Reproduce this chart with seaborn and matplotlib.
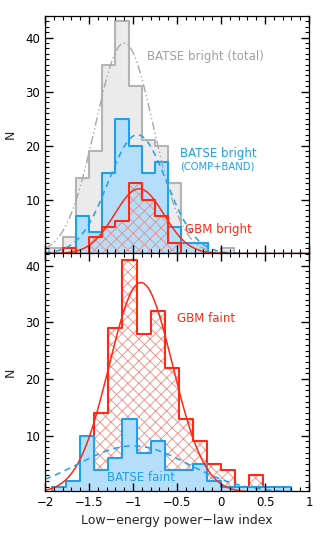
import numpy as np
import pandas as pd
import matplotlib
matplotlib.use('Agg')
import matplotlib.pyplot as plt
from matplotlib.ticker import MultipleLocator
import seaborn as sns

sns.set_style('ticks')
plt.rcParams.update({
    'font.family': ['DejaVu Sans'],
    'hatch.linewidth': 0.6,
    'hatch.color': '#f28a82',
})

# top panel: bright bursts, bin width 0.15
top_edges = np.round(np.arange(-1.95, 0.151, 0.15), 2)
batse_total = [1, 3, 14, 19, 35, 43, 31, 21, 20, 13, 2, 2, 0, 1]
batse_bright = [0, 0, 7, 4, 15, 25, 20, 15, 17, 5, 2, 2, 0, 0]
gbm_bright = [0, 1, 0, 3, 5, 6, 13, 10, 7, 2, 0, 0, 0, 0]

# bottom panel: faint bursts, bin width 0.16
bot_edges = np.round(np.arange(-1.92, 0.801, 0.16), 2)
gbm_faint = [0, 0, 0, 14, 29, 41, 28, 32, 22, 13, 9, 5, 4, 0, 3, 0, 0]
batse_faint = [1, 2, 10, 4, 6, 13, 7, 9, 4, 4, 5, 2, 1, 1, 1, 1, 1]

# gaussian fits (amplitude, mean, sigma)
fit_total = (39, -1.10, 0.33)
fit_bright = (22, -0.95, 0.33)
fit_gbm_bright = (12, -0.93, 0.28)
fit_gbm_faint = (37, -0.91, 0.36)
fit_batse_faint = (8.2, -1.0, 0.63)

RED = '#ff2a14'
BLUE = '#1fa0ee'
BLUE_FILL = '#b5defa'
GRAY = '#b4b4b4'
GRAY_FILL = '#ebebeb'
HATCH = '#f28a82'


def hist_frame(edges, counts):
    return pd.DataFrame({'x': (edges[:-1] + edges[1:]) / 2, 'w': counts})


def filled_hist(ax, edges, counts, face, edge, z):
    sns.histplot(data=hist_frame(edges, counts), x='x', weights='w',
                 bins=list(edges), element='step', fill=True, facecolor=face,
                 edgecolor=edge, linewidth=1.5, alpha=1, ax=ax, zorder=z)


def hatched_hist(ax, edges, counts, z):
    df = hist_frame(edges, counts)
    sns.histplot(data=df, x='x', weights='w', bins=list(edges), element='step',
                 fill=True, color=HATCH, edgecolor=HATCH, hatch='xxx',
                 linewidth=0, ax=ax, zorder=z)
    ax.collections[-1].set_facecolor('none')
    sns.histplot(data=df, x='x', weights='w', bins=list(edges), element='step',
                 fill=False, color=RED, linewidth=1.5, ax=ax, zorder=z + 0.1)


def gauss_curve(ax, fit, color, ls, z, lw=1.1):
    amp, mu, sig = fit
    xs = np.linspace(-2, 1, 400)
    ys = amp * np.exp(-(xs - mu) ** 2 / (2 * sig ** 2))
    ax.plot(xs, ys, color=color, linestyle=ls, linewidth=lw, zorder=z)


fig = plt.figure(figsize=(3.25, 5.41), dpi=100)
ax1 = fig.add_axes([0.1385, 0.5323, 0.8123, 0.4381])
ax2 = fig.add_axes([0.1385, 0.0924, 0.8123, 0.4399])

# top panel
filled_hist(ax1, top_edges, batse_total, GRAY_FILL, GRAY, 1)
filled_hist(ax1, top_edges, batse_bright, BLUE_FILL, BLUE, 1.2)
hatched_hist(ax1, top_edges, gbm_bright, 1.4)
gauss_curve(ax1, fit_total, '#a8a8a8', (0, (6, 2, 1, 2, 1, 2)), 1.8, lw=1.0)
gauss_curve(ax1, fit_bright, BLUE, (0, (4, 3)), 1.8)
gauss_curve(ax1, fit_gbm_bright, RED, '-', 1.8)

ax1.text(-0.84, 36.5, 'BATSE bright (total)', color='#a0a0a0', fontsize=8.5, va='center')
ax1.text(-0.47, 18.6, 'BATSE bright', color=BLUE, fontsize=8.5, va='center')
ax1.text(-0.47, 16.2, '(COMP+BAND)', color=BLUE, fontsize=7.2, va='center')
ax1.text(-0.41, 4.5, 'GBM bright', color=RED, fontsize=8.5, va='center')

# bottom panel
hatched_hist(ax2, bot_edges, gbm_faint, 1)
filled_hist(ax2, bot_edges, batse_faint, BLUE_FILL, BLUE, 1.3)
gauss_curve(ax2, fit_gbm_faint, RED, '-', 1.8)
gauss_curve(ax2, fit_batse_faint, BLUE, (0, (4, 3)), 1.8)

ax2.text(-0.50, 30.7, 'GBM faint', color=RED, fontsize=8.5, va='center')
ax2.text(-1.29, 2.7, 'BATSE faint', color=BLUE, fontsize=8.5, va='center')

for ax, ylim in ((ax1, (0.1, 44)), (ax2, (0.25, 42.2))):
    ax.set_xlim(-2, 1)
    ax.set_ylim(*ylim)
    ax.set_ylabel('N', fontsize=9, labelpad=6)
    for sp in ax.spines.values():
        sp.set_linewidth(0.9)
        sp.set_color('black')
        sp.set_zorder(5)

ax1.set_xlabel('')
ax2.set_xlabel('Low\u2212energy power\u2212law index', fontsize=9)
ax2.set_xticks([-2, -1.5, -1, -0.5, 0, 0.5, 1])
ax2.set_xticklabels(['\u22122', '\u22121.5', '\u22121', '\u22120.5', '0', '0.5', '1'])

for ax in (ax1, ax2):
    ax.set_axisbelow(False)
    ax.xaxis.set_major_locator(MultipleLocator(0.5))
    ax.xaxis.set_minor_locator(MultipleLocator(0.1))
    ax.yaxis.set_major_locator(MultipleLocator(10))
    ax.yaxis.set_minor_locator(MultipleLocator(1))
    ax.tick_params(axis='both', which='both', direction='in', bottom=True,
                   top=True, left=True, right=True, colors='black',
                   labelcolor='black', labelsize=8.5, zorder=6)
    ax.tick_params(axis='both', which='major', length=6, width=1.0)
    ax.tick_params(axis='both', which='minor', length=3, width=0.8)
ax1.tick_params(labelbottom=False)

fig.savefig('out.png', dpi=100)
